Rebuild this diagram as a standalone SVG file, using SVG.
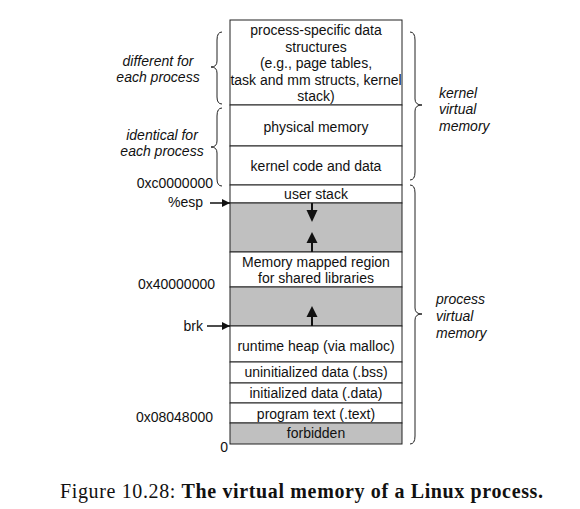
<svg xmlns="http://www.w3.org/2000/svg" width="580" height="509" viewBox="0 0 580 509">
<style>
.box{fill:#ffffff;stroke:#222;stroke-width:1}
.gray{fill:#c0c0c0;stroke:#222;stroke-width:1}
.t{font-family:"Liberation Sans",Arial,sans-serif;font-size:14px;fill:#111;text-anchor:middle}
.l{font-family:"Liberation Sans",Arial,sans-serif;font-size:14px;fill:#111;text-anchor:end}
.i{font-family:"Liberation Sans",Arial,sans-serif;font-size:14px;font-style:italic;fill:#111}
.brace{fill:none;stroke:#222;stroke-width:1}
</style>
<defs>
<marker id="ah" markerWidth="8" markerHeight="8" refX="8" refY="4" orient="auto" markerUnits="userSpaceOnUse">
<path d="M0,0 L8,4 L0,8 Z" fill="#111"/>
</marker>
</defs>
<rect width="580" height="509" fill="#ffffff"/>
<g id="node-proc-data"><rect class="box" x="230" y="20" width="172" height="85"/>
<text class="t" x="316" y="35">process-specific data</text>
<text class="t" x="316" y="51.5">structures</text>
<text class="t" x="316" y="68">(e.g., page tables,</text>
<text class="t" x="316" y="84.5">task and mm structs, kernel</text>
<text class="t" x="316" y="101">stack)</text></g>
<g id="node-phys"><rect class="box" x="230" y="105" width="172" height="41"/><text class="t" x="316" y="132">physical memory</text></g>
<g id="node-kcode"><rect class="box" x="230" y="146" width="172" height="39"/><text class="t" x="316" y="171">kernel code and data</text></g>
<g id="node-ustack"><rect class="box" x="230" y="185" width="172" height="18"/><text class="t" x="316" y="199">user stack</text></g>
<g id="node-gap1"><rect class="gray" x="230" y="203" width="172" height="49"/></g>
<g id="node-mmap"><rect class="box" x="230" y="252" width="172" height="35"/>
<text class="t" x="316" y="267">Memory mapped region</text>
<text class="t" x="316" y="283">for shared libraries</text></g>
<g id="node-gap2"><rect class="gray" x="230" y="287" width="172" height="39"/></g>
<g id="node-heap"><rect class="box" x="230" y="326" width="172" height="36"/><text class="t" x="316" y="351">runtime heap (via malloc)</text></g>
<g id="node-bss"><rect class="box" x="230" y="362" width="172" height="21"/><text class="t" x="316" y="377">uninitialized data (.bss)</text></g>
<g id="node-data"><rect class="box" x="230" y="383" width="172" height="20"/><text class="t" x="316" y="398">initialized data (.data)</text></g>
<g id="node-text"><rect class="box" x="230" y="403" width="172" height="20"/><text class="t" x="316" y="418.5">program text (.text)</text></g>
<g id="node-forbidden"><rect class="gray" x="230" y="423" width="172" height="21"/><text class="t" x="316" y="438">forbidden</text></g>

<g id="labels-left">
<text class="i" x="158" y="66" text-anchor="middle">different for</text>
<text class="i" x="158" y="81.5" text-anchor="middle">each process</text>
<text class="i" x="162" y="139.5" text-anchor="middle">identical  for</text>
<text class="i" x="162" y="155.5" text-anchor="middle">each process</text>
<text class="l" x="213" y="188">0xc0000000</text>
<text class="l" x="203" y="207">%esp</text>
<text class="l" x="215" y="289">0x40000000</text>
<text class="l" x="203" y="331">brk</text>
<text class="l" x="213" y="422">0x08048000</text>
<text class="l" x="228" y="452">0</text>
</g>
<g id="labels-right">
<text class="i" x="439" y="98">kernel</text>
<text class="i" x="439" y="114">virtual</text>
<text class="i" x="439" y="130.5">memory</text>
<text class="i" x="436" y="304">process</text>
<text class="i" x="436" y="321">virtual</text>
<text class="i" x="436" y="338">memory</text>
</g>
<g id="braces">
<path class="brace" d="M222,32 Q217,32 217,40 L217,61 Q217,67 211,67 Q217,67 217,73 L217,97 Q217,104 222,104"/>
<path class="brace" d="M222,108 Q217,108 217,116 L217,141 Q217,147 211,147 Q217,147 217,153 L217,179 Q217,186 222,186"/>
<path class="brace" d="M410,32 Q415,32 415,40 L415,99 Q415,105 422,105 Q415,105 415,111 L415,172 Q415,180 410,180"/>
<path class="brace" d="M410,185 Q415,185 415,193 L415,308 Q415,314 422,314 Q415,314 415,320 L415,436 Q415,444 410,444"/>
</g>
<g id="connectors">
<line x1="210" y1="203" x2="230" y2="203" stroke="#111" stroke-width="1.5" marker-end="url(#ah)"/>
<line x1="207" y1="326" x2="230" y2="326" stroke="#111" stroke-width="1.5" marker-end="url(#ah)"/>
<line x1="312" y1="203" x2="312" y2="211" stroke="#111" stroke-width="2"/>
<path d="M306.5,210 L317.5,210 L312,222 Z" fill="#111"/>
<line x1="312" y1="242" x2="312" y2="252" stroke="#111" stroke-width="2"/>
<path d="M306.5,243 L317.5,243 L312,232 Z" fill="#111"/>
<line x1="312" y1="316" x2="312" y2="326" stroke="#111" stroke-width="2"/>
<path d="M306.5,317 L317.5,317 L312,306 Z" fill="#111"/>
</g>
<text x="60" y="498" font-family="'Liberation Serif','Times New Roman',serif" font-size="20" fill="#111" textLength="483" lengthAdjust="spacing">Figure 10.28: <tspan font-weight="bold">The virtual memory of a Linux process.</tspan></text>
</svg>
